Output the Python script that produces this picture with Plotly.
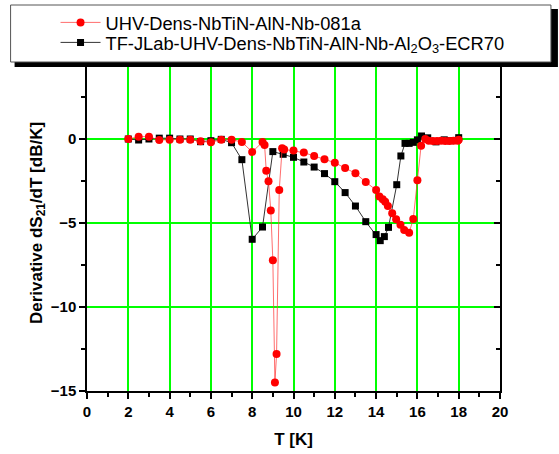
import plotly.graph_objects as go

# ---- data ----
red_name = "UHV-Dens-NbTiN-AlN-Nb-081a"
red_T = [2.0, 2.5, 3.0, 3.5, 4.0, 4.5, 5.0, 5.5, 6.0, 6.5, 7.0, 7.5, 8.0, 8.5, 8.6,
         8.68, 8.79, 8.9, 9.0, 9.1, 9.18, 9.31, 9.45, 9.55, 10.0, 10.5, 11.0, 11.5,
         12.0, 12.5, 13.0, 13.5, 14.0, 14.16, 14.32, 14.44, 14.57, 14.78, 14.97,
         15.18, 15.36, 15.6, 15.8, 16.0, 16.18, 16.38, 16.55, 16.75, 16.95, 17.15,
         17.35, 17.55, 17.75, 17.95, 18.0]
red_v = [0.0, 0.14, 0.14, -0.06, -0.04, -0.04, -0.04, -0.14, -0.2, -0.04, -0.04,
         -0.18, -0.77, -0.18, -0.36, -1.89, -2.52, -4.25, -7.22, -14.5, -12.8,
         -3.04, -0.55, -0.62, -0.69, -0.81, -1.01, -1.21, -1.41, -1.73, -2.04,
         -2.56, -3.04, -3.43, -3.59, -3.73, -3.99, -4.42, -4.78, -5.1, -5.42,
         -5.58, -4.76, -2.46, -0.4, 0.0, -0.1, -0.12, -0.12, -0.1, -0.12, -0.12,
         -0.1, -0.1, -0.05]

blk_name = "TF-JLab-UHV-Dens-NbTiN-AlN-Nb-Al<sub>2</sub>O<sub>3</sub>-ECR70"
blk_T = [2.0, 2.5, 3.0, 3.5, 4.0, 4.5, 5.0, 5.5, 6.0, 6.5, 7.0, 7.5, 8.0, 8.5, 9.0,
         9.5, 10.0, 10.5, 11.0, 11.5, 12.0, 12.5, 13.0, 13.5, 14.0, 14.2, 14.4,
         14.6, 15.0, 15.2, 15.4, 15.6, 15.8, 16.0, 16.2, 16.5, 16.9, 17.3, 17.6, 18.0]
blk_v = [0.0, -0.06, 0.0, 0.05, 0.05, 0.0, 0.0, -0.16, -0.1, -0.02, -0.22, -1.23,
         -5.97, -5.24, -0.75, -0.91, -1.09, -1.37, -1.67, -2.06, -2.54, -3.19,
         -3.99, -4.92, -5.69, -6.05, -5.81, -5.26, -2.72, -1.01, -0.26, -0.26,
         -0.2, -0.05, 0.18, 0.07, -0.17, -0.05, -0.1, 0.08]

x_ticks = [0, 2, 4, 6, 8, 10, 12, 14, 16, 18, 20]
y_ticks = [-15, -10, -5, 0, 5]

# ---- geometry helpers (pixel -> paper) ----
W, H = 559, 454
L, R, T, B = 86.5, 59, 55, 63
pw, ph = W - L - R, H - T - B


def px(xp):
    return (xp - L) / pw


def py(yp):
    return (H - B - yp) / ph


FONT = "Liberation Sans, Arial, sans-serif"
GRID = "#00ff00"
leg_font = dict(family=FONT, size=18.3, color="black")

fig = go.Figure()
fig.add_trace(go.Scatter(
    x=blk_T, y=blk_v, name=blk_name, mode="lines+markers", legend="legend2",
    line=dict(color="#333333", width=1),
    marker=dict(symbol="square", size=7, color="black"),
))
fig.add_trace(go.Scatter(
    x=red_T, y=red_v, name=red_name, mode="lines+markers", legend="legend",
    line=dict(color="rgba(255,60,60,0.75)", width=1),
    marker=dict(symbol="circle", size=8, color="#ff0000"),
))
# invisible trace to carry the right-hand axis
fig.add_trace(go.Scatter(x=[None], y=[None], yaxis="y2", showlegend=False,
                         hoverinfo="skip"))

axis_common = dict(
    showline=True, linecolor="black", linewidth=1.5,
    tickfont=dict(family=FONT, size=15, color="black", weight="bold"),
    zeroline=False,
)

fig.update_layout(
    width=W, height=H,
    margin=dict(l=L, r=R, t=T, b=B, pad=0, autoexpand=False),
    paper_bgcolor="white", plot_bgcolor="white",
    showlegend=True,
    legend=dict(
        x=px(55), y=py(4), xanchor="left", yanchor="top",
        bgcolor="rgba(0,0,0,0)", borderwidth=0, font=leg_font, itemwidth=40,
    ),
    legend2=dict(
        x=px(55), y=py(24), xanchor="left", yanchor="top",
        bgcolor="rgba(0,0,0,0)", borderwidth=0, font=leg_font, itemwidth=40,
    ),
    xaxis=dict(
        range=[0, 20], tickvals=x_ticks, ticks="outside", ticklen=6,
        tickcolor="black", tickwidth=1.5,
        showgrid=True, gridcolor=GRID, gridwidth=1.5,
        minor=dict(dtick=1, ticks="outside", ticklen=4, tickcolor="black",
                   showgrid=False),
        title=dict(text="T [K]", standoff=14,
                   font=dict(family=FONT, size=17, color="black", weight="bold")),
        **axis_common,
    ),
    yaxis=dict(
        range=[-15, 5], tickvals=y_ticks, ticks="outside", ticklen=6,
        tickcolor="black", tickwidth=1.5,
        showgrid=True, gridcolor=GRID, gridwidth=1.5,
        minor=dict(dtick=2.5, tick0=0, ticks="outside", ticklen=4,
                   tickcolor="black", showgrid=False),
        title=dict(text="Derivative dS<sub>21</sub>/dT [dB/K]", standoff=4,
                   font=dict(family=FONT, size=17, color="black", weight="bold")),
        **axis_common,
    ),
    yaxis2=dict(
        overlaying="y", side="right", range=[-15, 5], tickvals=y_ticks,
        ticks="inside", ticklen=6, tickcolor="black", tickwidth=1.5,
        showticklabels=False, showgrid=False,
        minor=dict(dtick=2.5, tick0=0, ticks="inside", ticklen=4,
                   tickcolor="black", showgrid=False),
        showline=True, linecolor="black", linewidth=1.5, zeroline=False,
    ),
    shapes=[
        # legend shadow
        dict(type="rect", xref="paper", yref="paper", layer="above",
             x0=px(14), x1=px(558), y0=py(67), y1=py(9),
             fillcolor="black", line=dict(width=0)),
        # legend box
        dict(type="rect", xref="paper", yref="paper", layer="above",
             x0=px(10), x1=px(551), y0=py(62), y1=py(5),
             fillcolor="white", line=dict(color="#555555", width=1)),
    ],
)

fig.write_html("out.html", config={"displayModeBar": False},
               post_script="document.body.style.margin='0px';")
